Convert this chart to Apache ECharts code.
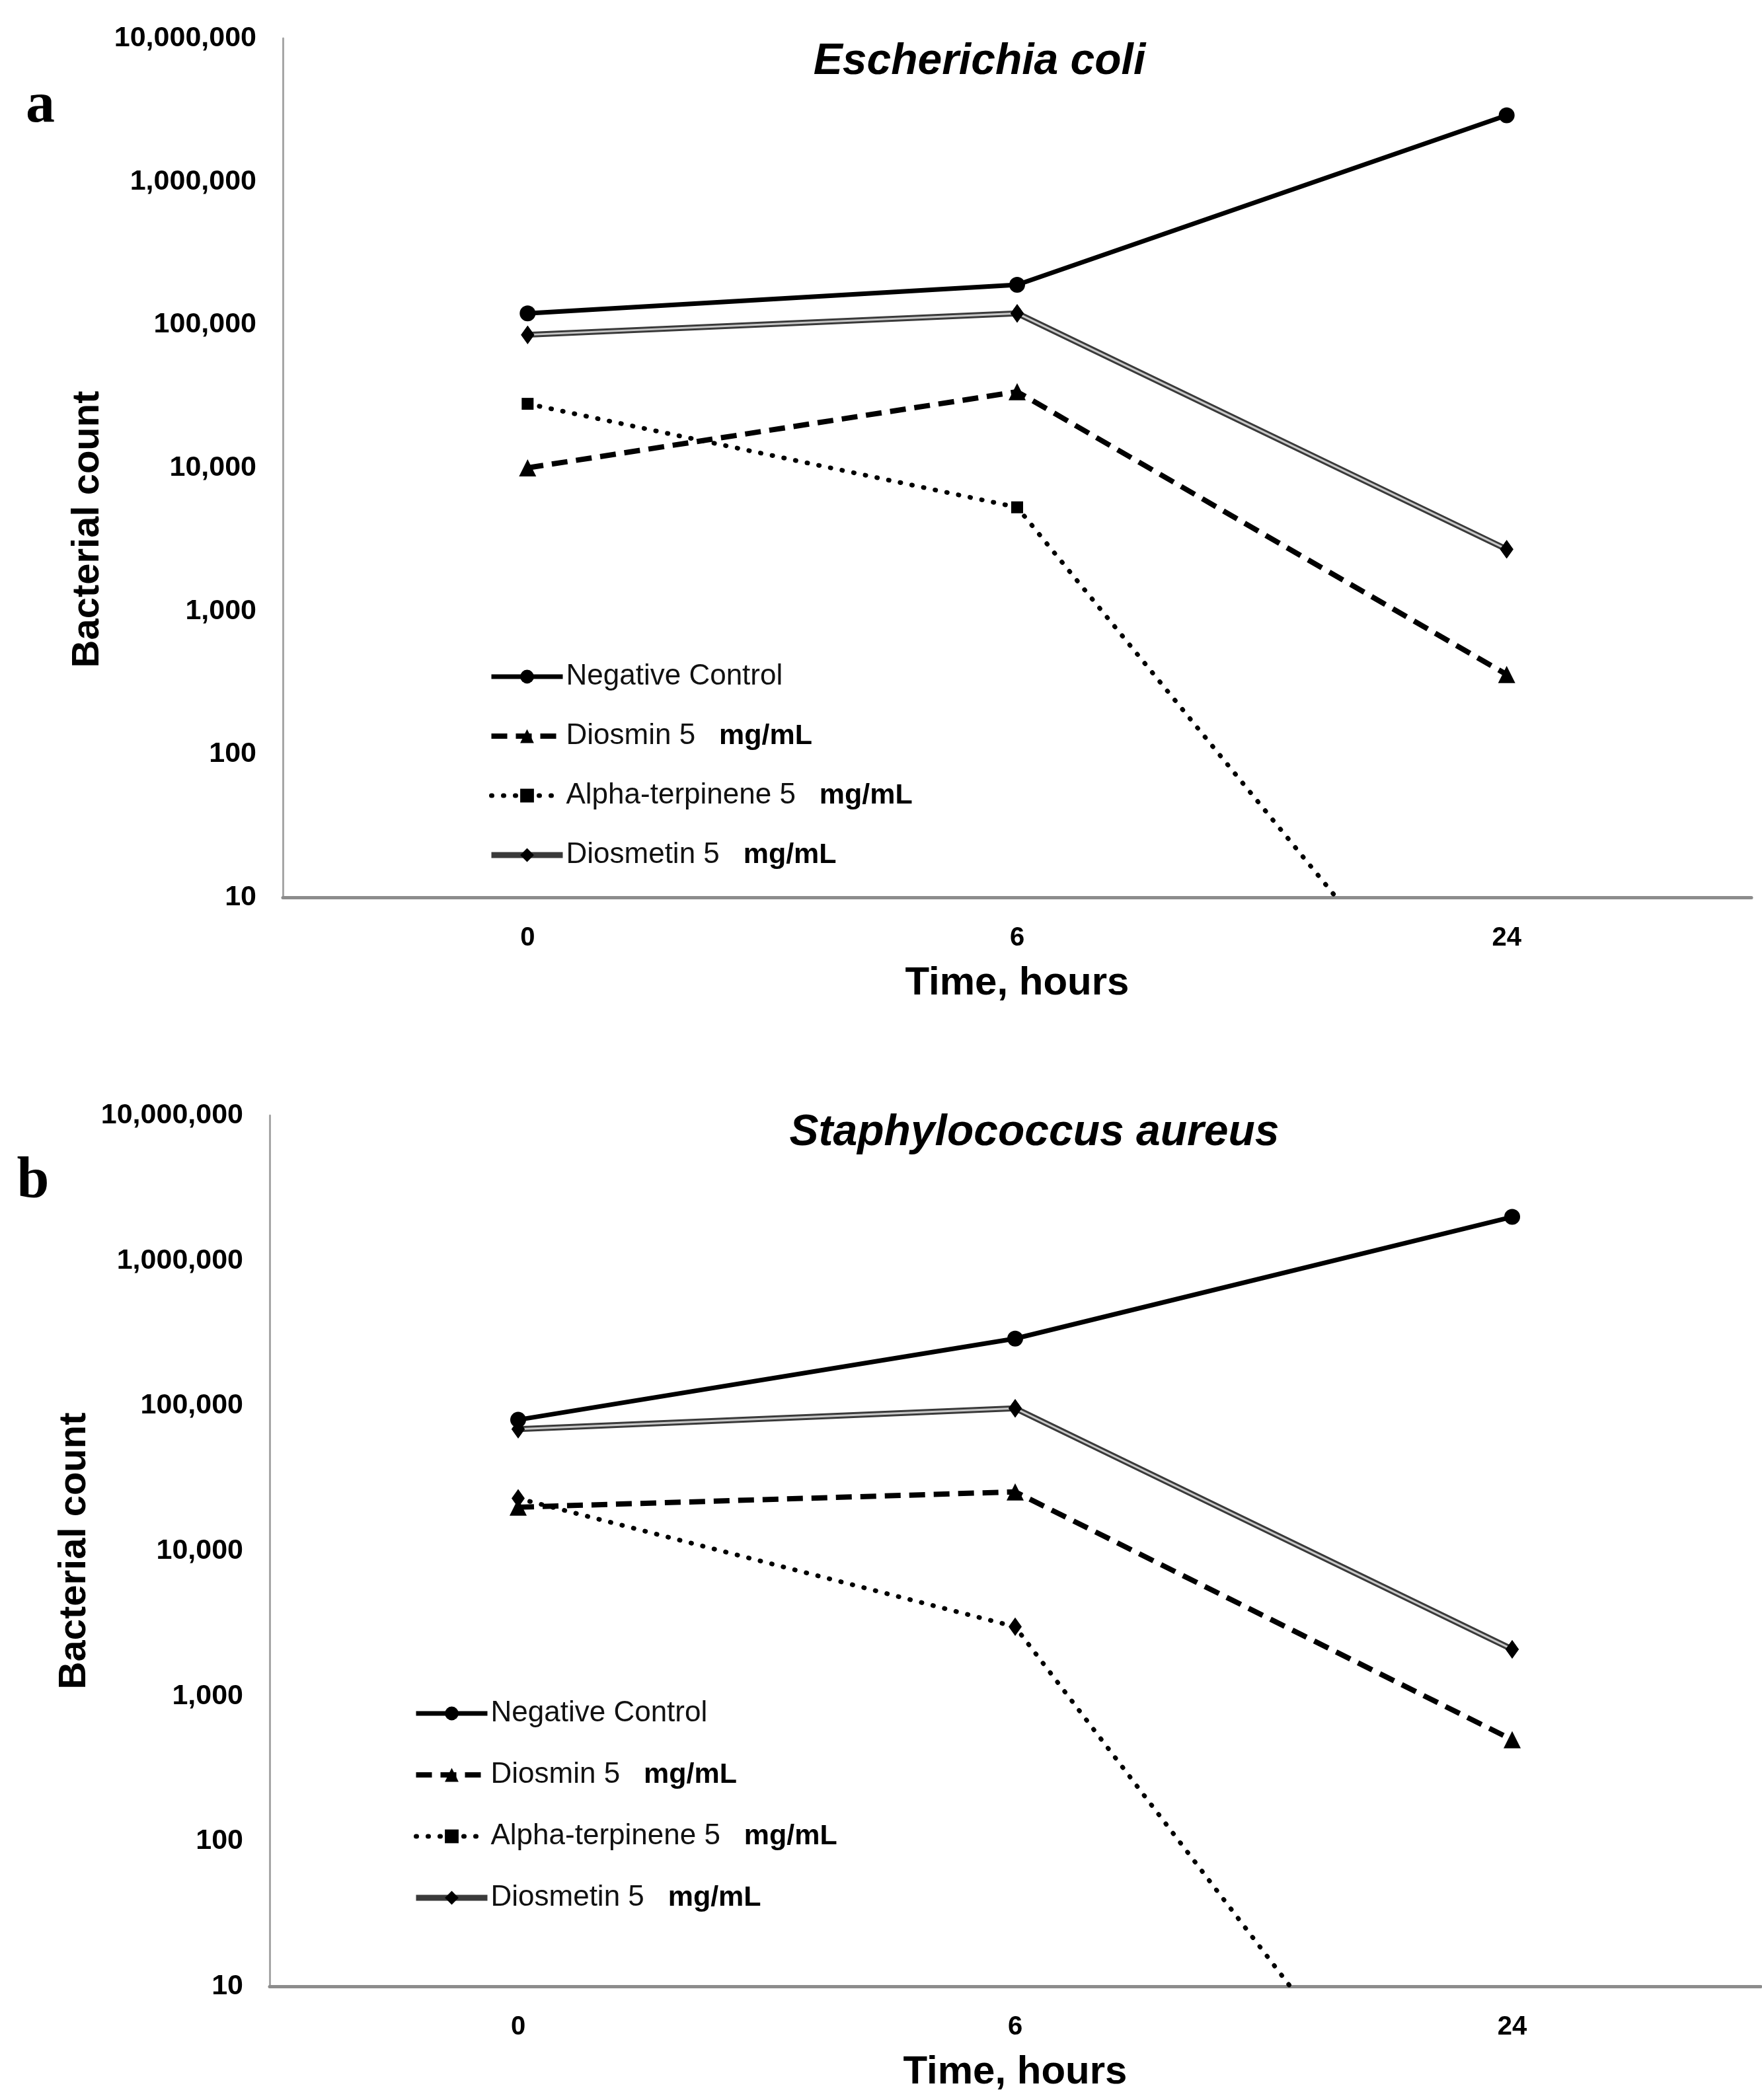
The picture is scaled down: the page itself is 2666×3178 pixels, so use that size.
<!DOCTYPE html>
<html>
<head>
<meta charset="utf-8">
<script src="https://cdn.jsdelivr.net/npm/echarts@6/dist/echarts.min.js"></script>
<style>
html,body{margin:0;padding:0;background:#fff;}
#chart{width:2666px;height:3178px;}
</style>
</head>
<body>
<div id="chart"></div>
<script>
// ---- data ----
const categories = ['0', '6', '24'];
const seriesNames = ['Negative Control', 'Diosmin 5   mg/mL', 'Alpha-terpinene 5   mg/mL', 'Diosmetin 5   mg/mL'];
// Escherichia coli (panel a)
const ecoliNegative  = [120000, 190000, 2900000];
const ecoliDiosmin   = [10000, 34000, 360];
const ecoliAlpha     = [28000, 5300, 0.35];
const ecoliDiosmetin = [85000, 120000, 2700];
// Staphylococcus aureus (panel b)
const saNegative  = [80000, 290000, 2000000];
const saDiosmin   = [20000, 25500, 500];
const saAlpha     = [23000, 3000, 0.1];
const saDiosmetin = [69000, 96000, 2100];
const yTicksMin = 10, yTicksMax = 10000000;

const FONT = "'Liberation Sans', Arial, sans-serif";

function legendFmt(name) {
  const i = name.indexOf('   mg/mL');
  if (i < 0) return '{n|' + name + '}';
  return '{n|' + name.slice(0, i) + '}{b|   mg/mL}';
}

function yAxis(gridIndex, padding) {
  return {
    type: 'log', logBase: 10, gridIndex: gridIndex,
    min: yTicksMin, max: yTicksMax, splitNumber: 6,
    name: 'Bacterial count', nameLocation: 'middle', nameGap: 232,
    nameTextStyle: { fontFamily: FONT, fontSize: 58, fontWeight: 'bold', color: '#000', padding: padding },
    axisLine: { show: true, lineStyle: { color: '#a6a6a6', width: 3 } },
    axisTick: { show: false },
    splitLine: { show: false },
    minorTick: { show: false },
    axisLabel: {
      margin: 40, fontFamily: FONT, fontSize: 43, fontWeight: 'bold', color: '#000',
      formatter: v => Number(v).toLocaleString('en-US')
    }
  };
}
function xAxis(gridIndex) {
  return {
    type: 'category', gridIndex: gridIndex, data: categories, boundaryGap: true,
    name: 'Time, hours', nameLocation: 'middle', nameGap: 100,
    nameTextStyle: { fontFamily: FONT, fontSize: 60, fontWeight: 'bold', color: '#000' },
    axisLine: { show: true, onZero: false, lineStyle: { color: '#8c8c8c', width: 5 } },
    axisTick: { show: false },
    splitLine: { show: false },
    axisLabel: { margin: 42, fontFamily: FONT, fontSize: 40, fontWeight: 'bold', color: '#000' }
  };
}

function panelSeries(gi, neg, dmin, alpha, dmet, alphaSymbol) {
  const base = { type: 'line', xAxisIndex: gi, yAxisIndex: gi, clip: true, smooth: false };
  return [
    Object.assign({}, base, {
      name: seriesNames[0], data: neg,
      symbol: 'circle', symbolSize: 24,
      lineStyle: { color: '#000', width: 7, type: 'solid' },
      itemStyle: { color: '#000' }
    }),
    Object.assign({}, base, {
      name: seriesNames[1], data: dmin,
      symbol: 'triangle', symbolSize: 26,
      lineStyle: { color: '#000', width: 8, type: [24, 13] },
      itemStyle: { color: '#000' }
    }),
    Object.assign({}, base, {
      name: seriesNames[2], data: alpha,
      symbol: alphaSymbol, symbolSize: alphaSymbol === 'rect' ? 18 : [20, 28],
      lineStyle: { color: '#000', width: 7, type: [1, 17], cap: 'round' },
      itemStyle: { color: '#000' }
    }),
    Object.assign({}, base, {
      name: seriesNames[3], data: dmet,
      symbol: 'diamond', symbolSize: [20, 28],
      lineStyle: { color: '#3a3a3a', width: 9, type: 'solid' },
      itemStyle: { color: '#000' }
    }),
    // light inner stroke of the double line
    Object.assign({}, base, {
      name: seriesNames[3], data: dmet, symbol: 'none',
      lineStyle: { color: '#c8c8c8', width: 3, type: 'solid' }
    }),
    // diamonds on top of the double line
    Object.assign({}, base, {
      name: seriesNames[3], data: dmet,
      symbol: 'diamond', symbolSize: [20, 28],
      lineStyle: { opacity: 0 },
      itemStyle: { color: '#000' }
    })
  ];
}

function legend(left, top, gap) {
  return {
    orient: 'vertical', left: left, top: top, padding: 0,
    data: seriesNames,
    itemWidth: 108, itemHeight: 26, itemGap: gap,
    lineStyle: { width: 'inherit', type: 'inherit', cap: 'inherit' },
    formatter: legendFmt,
    textStyle: {
      fontFamily: FONT, color: '#000',
      rich: {
        n: { fontFamily: FONT, fontSize: 44, color: '#111', lineHeight: 44 },
        b: { fontFamily: FONT, fontSize: 43, fontWeight: 'bold', color: '#000', lineHeight: 44 }
      }
    }
  };
}

const chart = echarts.init(document.getElementById('chart'), null, { renderer: 'canvas' });
chart.setOption({
  animation: false,
  backgroundColor: '#fff',
  title: [
    { text: 'Escherichia coli', left: 1477, top: 56, textAlign: 'center',
      textStyle: { fontFamily: FONT, fontSize: 66, fontWeight: 'bold', fontStyle: 'italic', color: '#000' } },
    { text: 'Staphylococcus aureus', left: 1560, top: 1677, textAlign: 'center',
      textStyle: { fontFamily: FONT, fontSize: 66, fontWeight: 'bold', fontStyle: 'italic', color: '#000' } },
    { text: 'a', left: 56, top: 112, textAlign: 'center',
      textStyle: { fontFamily: "'Liberation Serif', serif", fontSize: 88, fontWeight: 'bold', color: '#000' } },
    { text: 'b', left: 45, top: 1740, textAlign: 'center',
      textStyle: { fontFamily: "'Liberation Serif', serif", fontSize: 88, fontWeight: 'bold', color: '#000' } }
  ],
  legend: [legend(739, 1002, 46), legend(625, 2571, 49)],
  grid: [
    { left: 428, top: 58, width: 2222, height: 1300, containLabel: false },
    { left: 408, top: 1688, width: 2256, height: 1318, containLabel: false }
  ],
  xAxis: [xAxis(0), xAxis(1)],
  yAxis: [yAxis(0, [0, 186, 0, 0]), yAxis(1, [0, 0, 0, 0])],
  series: [].concat(
    panelSeries(0, ecoliNegative, ecoliDiosmin, ecoliAlpha, ecoliDiosmetin, 'rect'),
    panelSeries(1, saNegative, saDiosmin, saAlpha, saDiosmetin, 'diamond')
  )
});
</script>
</body>
</html>
